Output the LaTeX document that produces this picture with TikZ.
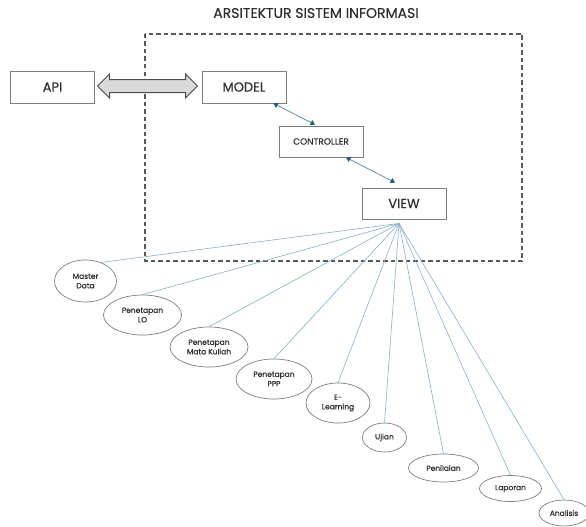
\documentclass[tikz,border=0pt]{standalone}
\usepackage{fontspec}
\setmainfont{Poppins}[FakeBold=0.45]
\usepackage{tikz}
\usetikzlibrary{arrows.meta}
\usetikzlibrary{shapes.geometric}
\usetikzlibrary{shapes.arrows}
\definecolor{boxgray}{RGB}{125,125,125}
\definecolor{txtgray}{RGB}{45,45,45}
\definecolor{linkblue}{RGB}{135,175,198}
\definecolor{tipblue}{RGB}{35,95,130}
\tikzset{box/.style={rectangle, draw=boxgray, line width=0.8pt, text=txtgray, inner sep=0pt, minimum width=84pt, minimum height=32pt},
  menu/.style={ellipse, draw=boxgray, line width=0.7pt, text=txtgray, inner sep=0pt, align=center, font=\fontsize{7.5}{9.5}\selectfont},
  mvc/.style={{Triangle[width=5.5pt,length=4.5pt,color=tipblue]}-{Triangle[width=5.5pt,length=4.5pt,color=tipblue]}, draw=linkblue!60!tipblue, line width=0.8pt},
  leg/.style={draw=linkblue, line width=0.6pt}}

\begin{document}
\begin{tikzpicture}[x=1pt, y=-1pt]
		\useasboundingbox (0,0) rectangle (586,527);
		\node[text=txtgray, font=\fontsize{14}{14}\selectfont] (title) at (316,13) {ARSITEKTUR SISTEM INFORMASI};
		\draw[draw=black!65, line width=1.1pt, dash pattern=on 4.5pt off 3pt] (145,34) rectangle (522,261);
		% boxes
		\node[box, font=\fontsize{13}{13}\selectfont] (api) at (52.5,87) {API};
		\node[box, font=\fontsize{13}{13}\selectfont] (model) at (244,87) {MODEL};
		\node[box, minimum height=31pt, font=\fontsize{9}{9}\selectfont] (ctrl) at (321,141.5) {CONTROLLER};
		\node[box, minimum height=31pt, font=\fontsize{13}{13}\selectfont] (view) at (404,203.5) {VIEW};
		\node[double arrow, draw=black!70, fill=black!15, line width=1pt, inner xsep=0pt, inner ysep=6pt, minimum height=100pt, double arrow head extend=5.5pt] (link) at (147.5,86) {};
		\draw[mvc] ([xshift=-13pt]model.south east) to ([xshift=-6pt,yshift=1pt]ctrl.north);
		\draw[mvc] ([xshift=25pt]ctrl.south) to ([xshift=-9pt,yshift=5pt]view.north);
		\coordinate (hub) at ([xshift=-5pt,yshift=-4pt]view.south);
		% menu items
		\node[menu, minimum width=62pt, minimum height=42pt] (md) at (85.5,281) {Master\\Data};
		\node[menu, minimum width=78pt, minimum height=40pt] (lo) at (142.5,315) {Penetapan\\LO};
		\node[menu, minimum width=78pt, minimum height=40pt] (mk) at (209,347) {Penetapan\\Mata Kuliah};
		\node[menu, minimum width=76pt, minimum height=40pt] (ppp) at (274,379) {Penetapan\\PPP};
		\node[menu, minimum width=64pt, minimum height=40pt] (el) at (338,403) {E-\\Learning};
		\node[menu, minimum width=44pt, minimum height=29pt] (uj) at (384.5,437.5) {Ujian};
		\node[menu, minimum width=70pt, minimum height=28pt] (pn) at (443.5,468) {Penilaian};
		\node[menu, minimum width=62pt, minimum height=26pt] (lp) at (510.5,488.5) {Laporan};
		\node[menu, minimum width=50pt, minimum height=26pt] (an) at (564,513) {Analisis};
		\draw[leg] (hub) to (md.50);
		\foreach \m in {lo,mk,ppp,el,uj,pn,lp,an}
			\draw[leg] (hub) to (\m.north);
		\end{tikzpicture}
\end{document}
